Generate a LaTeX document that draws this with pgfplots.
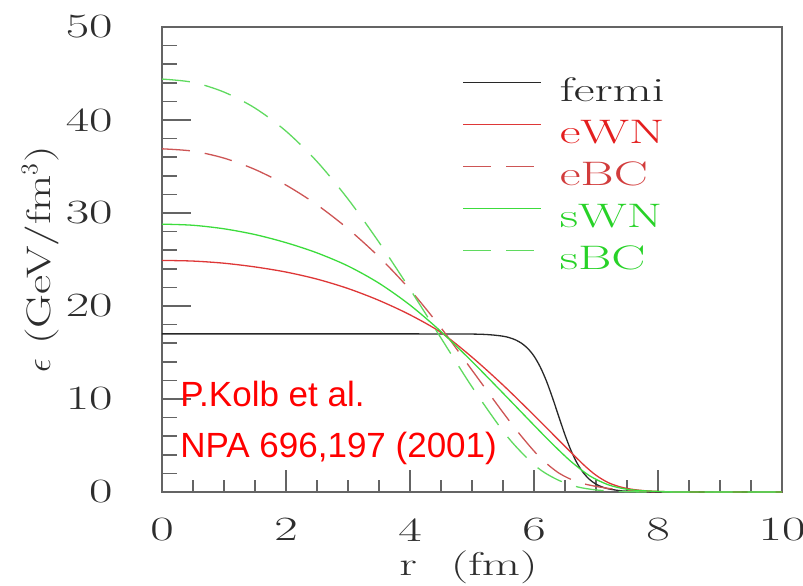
\documentclass[border=0pt]{standalone}
\usepackage{fontspec}
\setmainfont{lmroman17-regular.otf}[FakeStretch=1.5]
\newfontfamily\ylabfont{lmroman17-regular.otf}[FakeStretch=1.38]
\newfontfamily\arial{Liberation Sans}
\usepackage{pgfplots}
\pgfplotsset{compat=1.18}
\definecolor{cblack}{RGB}{40,40,40}
\definecolor{cred}{RGB}{222,55,55}
\definecolor{cred2}{RGB}{205,85,85}
\definecolor{cgreen}{RGB}{60,220,60}
\definecolor{cgreen2}{RGB}{95,218,95}
\definecolor{tred}{RGB}{228,30,30}
\definecolor{tred2}{RGB}{210,60,60}
\definecolor{tgreen}{RGB}{40,210,40}
\definecolor{axisgray}{RGB}{100,100,100}
\definecolor{labelgray}{RGB}{45,45,45}
\begin{document}
\begin{tikzpicture}
\begin{axis}[
  scale only axis, width=310pt, height=232.5pt,
  xmin=0, xmax=10, ymin=0, ymax=50, clip=false,
  xtick={0,2,...,10}, ytick={0,10,...,50},
  minor x tick num=3, minor y tick num=4,
  tick align=inside, tick pos=left,
  major tick length=14.5pt, minor tick length=7.5pt,
  xtick style={/pgfplots/major tick length=11pt, /pgfplots/minor tick length=6pt},
  axis line style={draw=axisgray, line width=0.8pt},
  every tick/.style={draw=axisgray, line width=0.8pt},
  /pgf/number format/assume math mode=true,
  ticklabel style={font=\fontsize{17}{20}\selectfont, text=labelgray},
  xticklabel style={anchor=north, inner sep=0pt, yshift=-13pt},
  yticklabel style={anchor=east, inner sep=0pt, xshift=-24.5pt},
  xlabel={r\hspace{17pt}(fm)},
  xlabel style={at={(axis description cs:0.5,0)}, anchor=base, yshift=-42pt, xshift=-1.75pt, font=\fontsize{16.5}{20}\selectfont, text=labelgray, inner sep=0pt},
  ylabel={$\epsilon$ (GeV/fm$^3$)},
  ylabel style={at={(axis description cs:-0.1806,0.5)}, anchor=base, font=\ylabfont\fontsize{17}{20}\selectfont, text=labelgray, inner sep=0pt},
  legend style={at={(axis cs:4.84,45.05)}, anchor=north west, draw=none, fill=none, inner sep=0pt, row sep=0pt,
    font=\fontsize{17}{20}\selectfont, nodes={inner sep=0pt, text height=14pt, text depth=7pt},
    /tikz/every odd column/.append style={column sep=9pt}},
  legend image code/.code={\draw[#1] (0pt,6pt) -- (39pt,6pt);},
  legend cell align=left,
]
\coordinate (ll) at (rel axis cs:0,0);
\coordinate (ur) at (rel axis cs:1,1);

\addplot[cblack, line width=0.65pt, smooth, tension=0.5] coordinates {
(0,17) (1,17) (2,17) (3,17) (4,17) (5.0,16.98) (5.3,16.90) (5.5,16.75) (5.6,16.60) (5.7,16.36)
(5.8,15.99) (5.9,15.43) (6.0,14.61) (6.1,13.45) (6.2,11.94) (6.3,10.10) (6.4,8.10) (6.5,6.14)
(6.6,4.41) (6.7,3.04) (6.8,2.03) (6.9,1.32) (7.0,0.84) (7.1,0.54) (7.2,0.34) (7.4,0.13)
(7.6,0.05) (7.8,0.02) (8.0,0.008) (8.5,0) (10,0)};
\addlegendentry{\textcolor{cblack}{fermi}}

\addplot[cred, line width=0.65pt, smooth, tension=0.5] coordinates {
(0,24.9) (0.5,24.83) (1.0,24.6) (1.5,24.2) (2.0,23.65) (2.5,22.89) (3.0,21.88) (3.5,20.6)
(4.0,19.05) (4.5,17.15) (5.0,14.5) (5.5,11.5) (6.0,8.25) (6.5,4.9) (6.8,2.93) (7.0,1.8)
(7.2,1.0) (7.4,0.53) (7.6,0.27) (7.8,0.13) (8.0,0.06) (8.2,0.02) (8.5,0) (10,0)};
\addlegendentry{\textcolor{tred}{eWN}}

\addplot[cred2, line width=0.65pt, smooth, tension=0.5, dash pattern=on 14pt off 7.5pt] coordinates {
(0,36.9) (0.5,36.65) (1.0,35.9) (1.5,34.68) (2.0,33.0) (2.5,30.88) (3.0,28.3) (3.5,25.28)
(4.0,21.75) (4.5,17.65) (5.0,13.1) (5.5,8.55) (5.8,5.97) (6.1,3.69) (6.4,2.04) (6.7,1.08)
(7.0,0.6) (7.3,0.3) (7.6,0.12) (7.9,0.04) (8.2,0) (10,0)};
\addlegendentry{\textcolor{tred2}{eBC}}

\addplot[cgreen, line width=0.65pt, smooth, tension=0.5] coordinates {
(0,28.8) (0.5,28.68) (1.0,28.3) (1.5,27.68) (2.0,26.81) (2.5,25.71) (3.0,24.3) (3.5,22.45)
(4.0,20.1) (4.5,17.25) (5.0,14.03) (5.5,10.63) (6.0,7.18) (6.3,5.15) (6.6,3.26) (6.9,1.73)
(7.2,0.77) (7.5,0.29) (7.8,0.12) (8.1,0.04) (8.4,0) (10,0)};
\addlegendentry{\textcolor{tgreen}{sWN}}

\addplot[cgreen2, line width=0.65pt, smooth, tension=0.5, dash pattern=on 14pt off 7.5pt] coordinates {
(0,44.4) (0.5,44.05) (1.0,43.0) (1.5,41.28) (2.0,38.8) (2.5,35.53) (3.0,31.5) (3.5,26.85)
(4.0,21.8) (4.5,16.55) (5.0,11.3) (5.5,6.55) (5.8,4.24) (6.1,2.4) (6.4,1.25) (6.7,0.55)
(7.0,0.22) (7.3,0.08) (7.6,0.02) (8.0,0) (10,0)};
\addlegendentry{\textcolor{tgreen}{sBC}}

\node[anchor=base west, inner sep=0pt, text=red, font=\arial\fontsize{17.5}{20}\selectfont] at (axis cs:0.29,9.23) {P.Kolb et al.};
\node[anchor=base west, inner sep=0pt, text=red, font=\arial\fontsize{17.5}{20}\selectfont] at (axis cs:0.29,3.76) {NPA 696,197 (2001)};
\end{axis}
\pgfresetboundingbox
\path[use as bounding box] ([xshift=-81pt,yshift=-47pt]ll) rectangle ([xshift=10.5pt,yshift=13.5pt]ur);
\end{tikzpicture}
\end{document}
